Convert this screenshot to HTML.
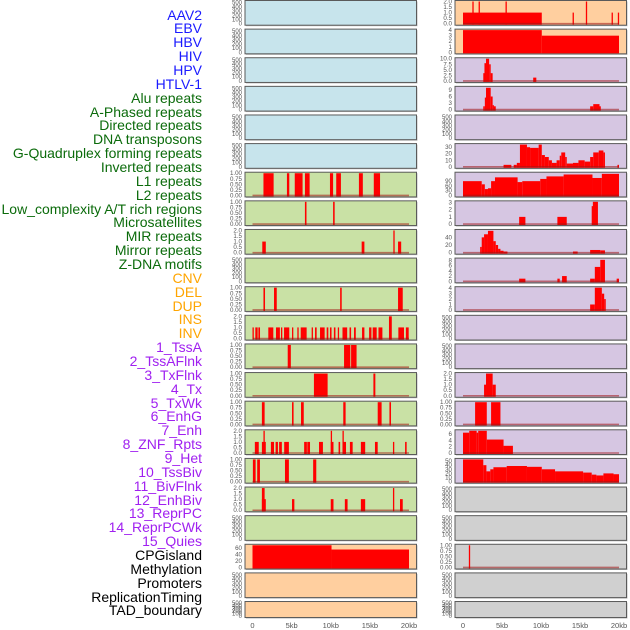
<!DOCTYPE html>
<html><head><meta charset="utf-8"><style>
html,body{margin:0;padding:0;background:#fff;}
#wrap{position:relative;width:630px;height:630px;overflow:hidden;font-family:"Liberation Sans",sans-serif;}
.lab{position:absolute;right:428px;font-size:14px;line-height:14px;white-space:nowrap;}
</style></head><body>
<div id="wrap">
<svg id="chart" width="630" height="630" style="position:absolute;left:0;top:0"></svg>
</div>
<script>
const labels=["AAV2","EBV","HBV","HIV","HPV","HTLV-1","Alu repeats","A-Phased repeats","Directed repeats","DNA transposons","G-Quadruplex forming repeats","Inverted repeats","L1 repeats","L2 repeats","Low_complexity A/T rich regions","Microsatellites","MIR repeats","Mirror repeats","Z-DNA motifs","CNV","DEL","DUP","INS","INV","1_TssA","2_TssAFlnk","3_TxFlnk","4_Tx","5_TxWk","6_EnhG","7_Enh","8_ZNF_Rpts","9_Het","10_TssBiv","11_BivFlnk","12_EnhBiv","13_ReprPC","14_ReprPCWk","15_Quies","CPGisland","Methylation","Promoters","ReplicationTiming","TAD_boundary"];
const labelGroups=[6,13,5,15,5];
const groupColors=["#1a1aff","#0b6b0b","#ffa500","#a020f0","#000000"];
const xTicks=[0,5,10,15,20];
const xTickLabels=["0","5kb","10kb","15kb","20kb"];
const emptyTicks=[0,100,200,300,400,500];
// left column segments [startKb,endKb,value]
const L6=[[1.4,2.7,1],[4.4,4.7,1],[5.4,6.4,1],[6.7,7.3,1],[9.9,10.3,1],[10.7,11.3,1],[13.6,14.1,1],[15.5,16.3,1]];
const L7=[[6.7,6.9,1],[10.3,10.5,1]];
const L8=[[1.25,1.7,1],[13.95,14.3,1],[18.0,18.15,2],[18.6,19.0,1]];
const L10=[[1.4,1.6,1],[2.75,3.1,1],[11.2,11.4,1],[18.6,19.2,1]];
const L11=[[0,0.15,1],[0.36,0.66,1],[0.75,0.96,1],[2.02,2.66,1],[3.0,3.5,1],[3.64,3.77,1],[4.03,4.7,1],[5.05,5.2,1],[5.73,5.9,1],[6.16,6.92,1],[7.56,7.69,1],[7.99,8.2,1],[8.63,9.22,1],[9.48,9.69,1],[9.9,10.1,1],[10.4,10.6,1],[10.9,11.05,1],[11.5,12.1,1],[12.4,12.6,1],[12.97,13.2,1],[14.0,14.3,1],[14.9,15.2,1],[15.36,15.87,1],[16.1,16.6,1],[17.44,17.8,2],[18.64,19.36,1],[19.6,19.96,1]];
const L12=[[4.5,4.9,1],[11.7,12.5,1],[12.6,13.3,1]];
const L13=[[7.85,9.6,1],[15.45,15.7,1]];
const L14=[[1.2,1.55,1],[5.05,5.25,1],[6.2,6.55,1],[11.6,11.9,1],[16.0,16.5,1],[17.5,17.7,1]];
const L15=[[0.3,0.8,1],[1.2,1.7,1],[1.4,1.55,2],[2.35,2.75,1],[2.95,3.25,1],[3.4,3.75,1],[4.05,4.65,1],[6.6,6.95,1],[7.0,7.35,1],[8.5,9.0,1],[10.0,10.35,1],[10.0,10.15,2],[11.0,11.2,1],[11.5,11.95,1],[11.5,11.62,2],[12.45,12.8,1],[13.85,14.4,1],[15.65,16.0,1],[17.95,18.1,1],[19.5,19.7,1]];
const L16=[[0.05,0.4,1],[0.6,0.95,1],[4.15,4.65,1],[7.75,8.15,1]];
const L17=[[1.2,1.55,2],[1.2,1.7,1],[5.05,5.35,1],[10.0,10.35,1],[11.8,12.15,1],[13.85,14.4,1],[17.95,18.1,2],[18.85,19.2,1]];
const L19=[[0,10.1,68],[10.1,20,55]];
// right column segments
const R0=[[0,10.1,1],[1.2,1.35,2],[2.0,2.15,2],[5.45,5.6,2],[15.75,15.9,2],[14.05,14.2,1],[19.05,19.2,1],[19.85,20,1]];
const R1=[[0,10.1,4],[10.1,20,3]];
const R2=[[2.6,2.75,3.5],[2.75,2.95,8],[2.95,3.35,10],[3.35,3.55,7.5],[3.55,3.8,3.5],[9.0,9.4,1.5]];
const R3=[[2.6,2.8,1.5],[2.8,2.95,5.5],[2.95,3.55,10],[3.55,3.8,6],[3.8,3.95,2],[3.95,4.2,1.5],[16.3,16.7,1.5],[16.7,17.5,2.5],[17.5,17.6,1.5]];
const R5=[[5.2,6.2,3],[6.5,6.9,3],[6.9,7.3,6],[7.3,8.2,34],[8.2,8.6,30],[8.6,9.7,29],[9.7,10.1,34],[10.1,10.5,18],[10.5,11.0,15],[11.0,11.4,10],[11.4,12.0,6],[12.0,12.4,10],[12.4,12.6,17],[12.6,13.1,22],[13.1,13.3,15],[13.3,14.1,5],[14.1,14.8,6],[14.8,15.6,10],[15.6,16.3,8],[16.3,16.7,15],[16.7,17.4,22],[17.4,18.0,25],[18.0,18.2,22],[19.8,20,3]];
const R6=[[0,2.4,90],[2.4,2.8,70],[2.8,3.2,40],[3.2,3.6,45],[3.6,4.1,90],[4.1,7.0,114],[7.0,7.6,84],[7.6,9.9,90],[9.9,10.7,104],[10.7,12.9,120],[12.9,16.6,132],[16.6,17.8,110],[17.8,20,136]];
const R7=[[7.2,8.0,1],[12.1,13.3,1],[16.5,16.65,2.5],[16.65,17.3,3.1]];
const R8=[[2.2,2.4,15],[2.4,2.7,40],[2.7,3.2,48],[3.2,3.9,57],[3.9,4.2,30],[4.2,4.5,20],[4.5,4.8,10],[4.8,5.2,5],[5.2,5.7,3],[14.1,14.7,3],[16.3,17.6,7],[17.6,18.2,6]];
const R9=[[7.2,8.0,1],[12.1,12.4,1],[12.7,13.3,2],[16.3,16.9,1],[16.9,17.6,5.5],[17.6,18.2,8.2],[19.7,20,1]];
const R10=[[16.3,16.9,1],[16.9,17.8,4.1],[17.8,18.1,3],[18.1,18.3,2]];
const R13=[[2.7,2.95,1],[2.95,3.8,2],[3.8,4.2,1]];
const R14=[[1.55,3.05,1],[3.6,4.8,1]];
const R15=[[0,0.8,6.5],[0.8,1.75,7.1],[1.75,1.95,6.5],[1.95,3.05,7.1],[3.05,5.2,4.3],[5.2,6.4,2.3]];
const R16=[[0,2.6,54],[2.6,3.0,40],[3.0,3.5,25],[3.5,3.9,30],[3.9,5.6,35],[5.6,8.2,38],[8.2,10.1,36],[10.1,11.8,30],[11.8,15.4,25],[15.4,16.5,22],[16.5,17.1,17],[17.1,18.0,15],[18.0,19.3,20],[19.3,20,18]];
const R19=[[0.75,0.9,1]];

const leftPanels={6:{d:L6,ymax:1,t:["0.00","0.25","0.50","0.75","1.00"],tv:[0,.25,.5,.75,1]},7:{d:L7,ymax:1,t:["0.00","0.25","0.50","0.75","1.00"],tv:[0,.25,.5,.75,1]},8:{d:L8,ymax:2,t:["0.0","0.5","1.0","1.5","2.0"],tv:[0,.5,1,1.5,2]},10:{d:L10,ymax:1,t:["0.00","0.25","0.50","0.75","1.00"],tv:[0,.25,.5,.75,1]},11:{d:L11,ymax:2,t:["0.0","0.5","1.0","1.5","2.0"],tv:[0,.5,1,1.5,2]},12:{d:L12,ymax:1,t:["0.00","0.25","0.50","0.75","1.00"],tv:[0,.25,.5,.75,1]},13:{d:L13,ymax:1,t:["0.00","0.25","0.50","0.75","1.00"],tv:[0,.25,.5,.75,1]},14:{d:L14,ymax:1,t:["0.00","0.25","0.50","0.75","1.00"],tv:[0,.25,.5,.75,1]},15:{d:L15,ymax:2,t:["0.0","0.5","1.0","1.5","2.0"],tv:[0,.5,1,1.5,2]},16:{d:L16,ymax:1,t:["0.00","0.25","0.50","0.75","1.00"],tv:[0,.25,.5,.75,1]},17:{d:L17,ymax:2,t:["0.0","0.5","1.0","1.5","2.0"],tv:[0,.5,1,1.5,2]},19:{d:L19,ymax:68,t:["0","20","40","60"],tv:[0,20,40,60],nobase:true}};
const rightPanels={0:{d:R0,ymax:2,t:["0.0","0.5","1.0","1.5","2.0"],tv:[0,.5,1,1.5,2]},1:{d:R1,ymax:4,t:["0","1","2","3","4"],tv:[0,1,2,3,4],nobase:true},2:{d:R2,ymax:10,t:["0.0","2.5","5.0","7.5","10.0"],tv:[0,2.5,5,7.5,10]},3:{d:R3,ymax:10.2,t:["0","3","6","9"],tv:[0,3,6,9]},5:{d:R5,ymax:34,t:["0","10","20","30"],tv:[0,10,20,30]},6:{d:R6,ymax:140,t:["0","30","60","90"],tv:[0,30,60,90]},7:{d:R7,ymax:3.1,t:["0","1","2","3"],tv:[0,1,2,3]},8:{d:R8,ymax:58,t:["0","20","40"],tv:[0,20,40]},9:{d:R9,ymax:8.5,t:["0","2","4","6","8"],tv:[0,2,4,6,8]},10:{d:R10,ymax:4.1,t:["0","1","2","3","4"],tv:[0,1,2,3,4]},13:{d:R13,ymax:2,t:["0.0","0.5","1.0","1.5","2.0"],tv:[0,.5,1,1.5,2]},14:{d:R14,ymax:1,t:["0.00","0.25","0.50","0.75","1.00"],tv:[0,.25,.5,.75,1]},15:{d:R15,ymax:7.1,t:["0","2","4","6"],tv:[0,2,4,6]},16:{d:R16,ymax:54,t:["0","10","20","30","40","50"],tv:[0,10,20,30,40,50]},19:{d:R19,ymax:1,t:["0.00","0.25","0.50","0.75","1.00"],tv:[0,.25,.5,.75,1]}};

const NS="http://www.w3.org/2000/svg";
const svg=document.getElementById('chart');
function mk(tag,attrs,parent){const e=document.createElementNS(NS,tag);for(const k in attrs)e.setAttribute(k,attrs[k]);(parent||svg).appendChild(e);return e;}
const cols=[{x0:245,x1:416.5,k0:252.5,k1:409,panels:leftPanels,name:'left'},{x0:455,x1:626.5,k0:463,k1:619,panels:rightPanels,name:'right'}];
function bgColor(c,i){if(c===0){return i<=5?'#c7e4ec':(i<=18?'#c9e1a5':'#ffcf9f');}return i<=1?'#ffcf9f':(i<=16?'#d6c6e2':'#d0d0d0');}
const nRows=22;
for(let ci=0;ci<2;ci++){const c=cols[ci];
 const xs=v=>c.k0+(v/20)*(c.k1-c.k0);
 for(let i=0;i<nRows;i++){
  const top=i*28.62+0.5; const h=(i===21)?16:24.7; const bot=top+h;
  const g=mk('g',{});
  
  
  const sh=mk('rect',{x:c.x0+1,y:top+1,width:c.x1-c.x0,height:h,fill:'#bdbdbd'},g);
  
  const bg=mk('rect',{x:c.x0,y:top,width:c.x1-c.x0,height:h,fill:bgColor(ci,i),stroke:'#5a5a5a','stroke-width':1},g);
  
  const p=c.panels[i];
  const y0=bot-1.5, y1=top+1;
  if(p){
   const ys=v=>y0-(v/p.ymax)*(y0-y1);
   p.tv.forEach((v,j)=>{const t=mk('text',{x:c.x0-3,y:ys(v)+2,'font-size':6.2,fill:'#555','text-anchor':'end','font-family':'Liberation Sans, sans-serif'},g);t.textContent=p.t[j];
    });
   p.d.forEach(s=>{const xa=xs(s[0]),xb=xs(s[1]);const w=Math.max(1.3,xb-xa);const yv=ys(Math.min(s[2],p.ymax));
    const r=mk('rect',{x:xa,y:yv,width:w,height:Math.max(0,bot-0.5-yv),fill:'#ff0000'},g);
    });
   if(!p.nobase){const l=mk('line',{x1:xs(0),x2:xs(20),y1:y0,y2:y0,stroke:'rgba(160,20,20,0.55)','stroke-width':1.6},g);
    }
  } else {
   emptyTicks.forEach(v=>{const yy=y0-(v/500)*(y0-y1)*0.95;const t=mk('text',{x:c.x0-3,y:yy+2,'font-size':6,fill:'#555','text-anchor':'end','font-family':'Liberation Sans, sans-serif'},g);t.textContent=String(v);
    });
  }
 }
 xTicks.forEach((v,j)=>{const t=mk('text',{x:xs(v),y:628,'font-size':7.5,fill:'#555','text-anchor':'middle','font-family':'Liberation Sans, sans-serif'});t.textContent=xTickLabels[j];
  });
}
const wrap=document.getElementById('wrap');
let idx=0;
labelGroups.forEach((n,gi)=>{for(let k=0;k<n;k++){const d=document.createElement('div');d.className='lab';d.style.top=(15+idx*13.86-7.5)+'px';d.style.color=groupColors[gi];d.textContent=labels[idx];
 
 
 wrap.appendChild(d);idx++;}});
</script>
</body></html>
